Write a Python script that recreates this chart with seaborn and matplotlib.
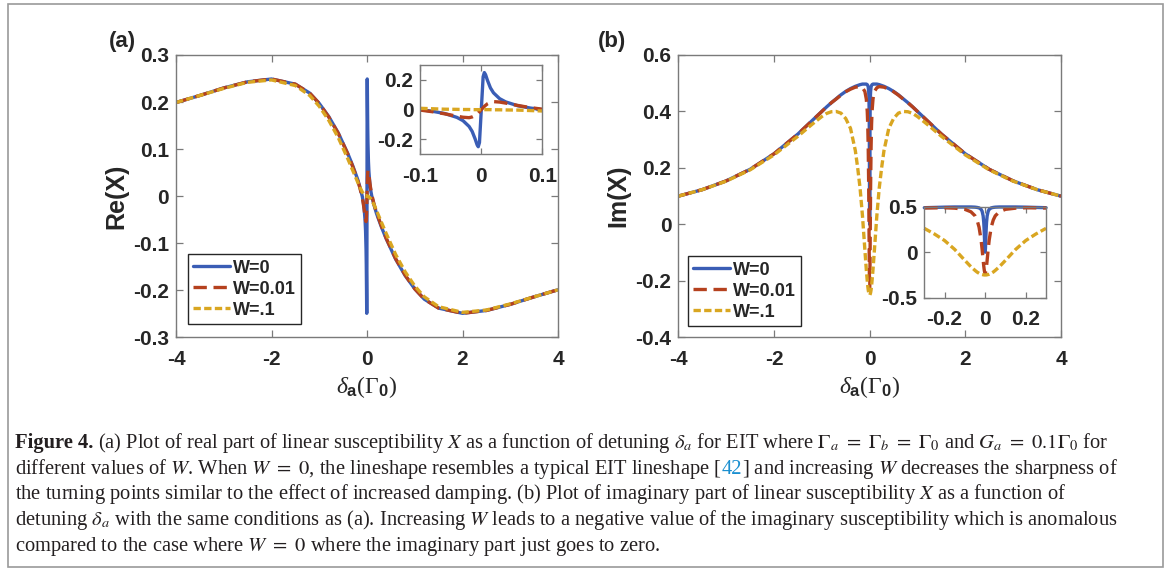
import matplotlib
matplotlib.use("Agg")
import pandas as pd
import seaborn as sns
from matplotlib import pyplot as plt
from matplotlib.patches import Rectangle

# values
re_x = [-4, -3.5, -3, -2.5, -2, -1.5, -1.2, -1, -0.8, -0.6, -0.4, -0.3, -0.2, -0.15, -0.1, -0.08, -0.06,
        -0.04, -0.03, -0.02, -0.015, -0.01, -0.007, -0.005, -0.003, 0, 0.003, 0.005, 0.007, 0.01, 0.015,
        0.02, 0.03, 0.04, 0.06, 0.08, 0.1, 0.15, 0.2, 0.3, 0.4, 0.6, 0.8, 1, 1.2, 1.5, 2, 2.5, 3, 3.5, 4]
re_w0 = [0.199, 0.214, 0.230, 0.243, 0.249, 0.238, 0.219, 0.197, 0.169, 0.134, 0.090, 0.065, 0.037, 0.020,
         0.000, -0.011, -0.026, -0.052, -0.074, -0.113, -0.146, -0.198, -0.235, -0.249, -0.221, 0.000,
         0.221, 0.249, 0.235, 0.198, 0.146, 0.113, 0.074, 0.052, 0.026, 0.011, 0.000, -0.020, -0.037,
         -0.065, -0.090, -0.134, -0.169, -0.197, -0.219, -0.238, -0.249, -0.243, -0.230, -0.214, -0.199]
re_w001 = [0.199, 0.214, 0.230, 0.243, 0.249, 0.238, 0.219, 0.197, 0.168, 0.133, 0.089, 0.063, 0.035, 0.018,
           -0.003, -0.014, -0.028, -0.044, -0.051, -0.054, -0.049, -0.039, -0.029, -0.022, -0.013, 0.000,
           0.013, 0.022, 0.029, 0.039, 0.049, 0.054, 0.051, 0.044, 0.028, 0.014, 0.003, -0.018, -0.035,
           -0.063, -0.089, -0.133, -0.168, -0.197, -0.219, -0.238, -0.249, -0.243, -0.230, -0.214, -0.199]
re_w01 = [0.199, 0.214, 0.229, 0.242, 0.247, 0.235, 0.214, 0.191, 0.161, 0.124, 0.079, 0.055, 0.031, 0.019,
          0.009, 0.006, 0.003, 0.002, 0.001, 0.001, 0.000, 0.000, 0.000, 0.000, 0.000, 0.000,
          0.000, 0.000, 0.000, 0.000, 0.000, -0.001, -0.001, -0.002, -0.003, -0.006, -0.009, -0.019, -0.031,
          -0.055, -0.079, -0.124, -0.161, -0.191, -0.214, -0.235, -0.247, -0.242, -0.229, -0.214, -0.199]

im_x = [-4, -3.5, -3, -2.5, -2, -1.5, -1.2, -1, -0.9, -0.8, -0.7, -0.6, -0.5, -0.4, -0.3, -0.25, -0.2, -0.15,
        -0.1, -0.07, -0.05, -0.04, -0.03, -0.02, -0.015, -0.01, -0.007, -0.005, -0.003, -0.0015, 0,
        0.0015, 0.003, 0.005, 0.007, 0.01, 0.015, 0.02, 0.03, 0.04, 0.05, 0.07, 0.1, 0.15, 0.2, 0.25, 0.3,
        0.4, 0.5, 0.6, 0.7, 0.8, 0.9, 1, 1.2, 1.5, 2, 2.5, 3, 3.5, 4]
im_w0 = [0.100, 0.123, 0.154, 0.195, 0.250, 0.320, 0.368, 0.400, 0.416, 0.431, 0.445, 0.459, 0.471, 0.481,
         0.489, 0.492, 0.495, 0.497, 0.497, 0.497, 0.495, 0.492, 0.487, 0.471, 0.450, 0.400, 0.331, 0.250,
         0.132, 0.041, 0.000,
         0.041, 0.132, 0.250, 0.331, 0.400, 0.450, 0.471, 0.487, 0.492, 0.495, 0.497, 0.497, 0.497, 0.495,
         0.492, 0.489, 0.481, 0.471, 0.459, 0.445, 0.431, 0.416, 0.400, 0.368, 0.320, 0.250, 0.195, 0.154,
         0.123, 0.100]
im_w001 = [0.100, 0.123, 0.154, 0.195, 0.250, 0.320, 0.368, 0.400, 0.416, 0.431, 0.444, 0.458, 0.470, 0.479,
           0.486, 0.487, 0.488, 0.484, 0.471, 0.444, 0.400, 0.354, 0.275, 0.135, 0.033, -0.084, -0.150,
           -0.187, -0.214, -0.226, -0.230,
           -0.226, -0.214, -0.187, -0.150, -0.084, 0.033, 0.135, 0.275, 0.354, 0.400, 0.444, 0.471, 0.484,
           0.488, 0.487, 0.486, 0.479, 0.470, 0.458, 0.444, 0.431, 0.416, 0.400, 0.368, 0.320, 0.250, 0.195,
           0.154, 0.123, 0.100]
im_w01 = [0.100, 0.123, 0.153, 0.193, 0.246, 0.312, 0.355, 0.382, 0.393, 0.399, 0.400, 0.394, 0.375, 0.340,
          0.262, 0.200, 0.128, 0.030, -0.090, -0.160, -0.200, -0.218, -0.232, -0.242, -0.245, -0.248,
          -0.249, -0.250, -0.250, -0.250, -0.250,
          -0.250, -0.250, -0.250, -0.249, -0.248, -0.245, -0.242, -0.232, -0.218, -0.200, -0.160, -0.090,
          0.030, 0.128, 0.200, 0.262, 0.340, 0.375, 0.394, 0.400, 0.399, 0.393, 0.382, 0.355, 0.312, 0.246,
          0.193, 0.153, 0.123, 0.100]

series_labels = ["W=0", "W=0.01", "W=.1"]

re_yticks = [-0.3, -0.2, -0.1, 0, 0.1, 0.2, 0.3]
re_ylabels = ["-0.3", "-0.2", "-0.1", "0", "0.1", "0.2", "0.3"]
im_yticks = [-0.4, -0.2, 0, 0.2, 0.4, 0.6]
im_ylabels = ["-0.4", "-0.2", "0", "0.2", "0.4", "0.6"]
main_xticks = [-4, -2, 0, 2, 4]
main_xlabels = ["-4", "-2", "0", "2", "4"]
re_in_xticks = [-0.1, 0, 0.1]
re_in_xlabels = ["-0.1", "0", "0.1"]
re_in_yticks = [-0.2, 0, 0.2]
re_in_ylabels = ["-0.2", "0", "0.2"]
im_in_xticks = [-0.2, 0, 0.2]
im_in_xlabels = ["-0.2", "0", "0.2"]
im_in_yticks = [-0.5, 0, 0.5]
im_in_ylabels = ["-0.5", "0", "0.5"]

re_df = pd.DataFrame({"delta": re_x, "W=0": re_w0, "W=0.01": re_w001, "W=.1": re_w01})
im_df = pd.DataFrame({"delta": im_x, "W=0": im_w0, "W=0.01": im_w001, "W=.1": im_w01})

sns.set_style("ticks")
plt.rcParams["font.family"] = ["Liberation Sans", "DejaVu Sans"]
plt.rcParams["axes.unicode_minus"] = False
plt.rcParams["mathtext.fontset"] = "custom"
plt.rcParams["mathtext.rm"] = "Liberation Serif"
plt.rcParams["mathtext.it"] = "Liberation Serif:italic"
plt.rcParams["mathtext.bf"] = "Liberation Sans:bold"

colors = {"W=0": "#3a5db5", "W=0.01": "#b5411e", "W=.1": "#d9a621"}
styles = {"W=0": "-", "W=0.01": (0, (4, 2)), "W=.1": (0, (2.2, 1.0))}
LW = 2.4
W, H = 1168, 571

fig = plt.figure(figsize=(W / 100, H / 100), dpi=100)
ax_re = fig.add_axes([176 / W, 1 - 337.3 / H, 382 / W, 282.3 / H])
ax_im = fig.add_axes([678.3 / W, 1 - 337.3 / H, 382.7 / W, 282.3 / H])
in_re = fig.add_axes([420.3 / W, 1 - 154.3 / H, 122 / W, 89.3 / H])
in_im = fig.add_axes([924.3 / W, 1 - 297.7 / H, 121.7 / W, 91 / H])


def draw(ax, df, clip=True, label=True):
    for s in series_labels:
        sns.lineplot(data=df, x="delta", y=s, ax=ax, color=colors[s], linestyle=styles[s],
                     linewidth=LW, label=s if label else None, legend=False, clip_on=clip)


def style(ax, xlim, ylim, xt, xl, yt, yl, xpad, ypad, tl=5):
    ax.set_xlim(*xlim)
    ax.set_ylim(*ylim)
    ax.set_xticks(xt, xl)
    ax.set_yticks(yt, yl)
    ax.tick_params(direction="in", top=True, right=True, length=tl, width=0.9, color="#7a7a7a",
                   labelsize=15, labelcolor="#262626")
    ax.tick_params(axis="x", pad=xpad)
    ax.tick_params(axis="y", pad=ypad)
    for t in ax.get_xticklabels() + ax.get_yticklabels():
        t.set_fontweight("bold")
    for sp in ax.spines.values():
        sp.set_color("#7a7a7a")
        sp.set_linewidth(1.0)
    ax.set_xlabel("")
    ax.set_ylabel("")


draw(ax_re, re_df)
draw(ax_im, im_df)
draw(in_re, re_df[(re_df.delta >= -0.1) & (re_df.delta <= 0.1)], label=False)
draw(in_im, im_df[(im_df.delta >= -0.3) & (im_df.delta <= 0.3)], clip=False, label=False)

style(ax_re, (-4, 4), (-0.3, 0.3), main_xticks, main_xlabels, re_yticks, re_ylabels, 9, 5)
style(ax_im, (-4, 4), (-0.4, 0.6), main_xticks, main_xlabels, im_yticks, im_ylabels, 9, 5)
style(in_re, (-0.1, 0.1), (-0.3, 0.3), re_in_xticks, re_in_xlabels, re_in_yticks, re_in_ylabels, 9, 5, tl=4)
style(in_im, (-0.3, 0.3), (-0.5, 0.5), im_in_xticks, im_in_xlabels, im_in_yticks, im_in_ylabels, 9, 5, tl=4)

for ax, yl in [(ax_re, "Re(X)"), (ax_im, "Im(X)")]:
    ax.set_ylabel(yl, fontsize=18, fontweight="bold", color="#262626")
    ax.yaxis.set_label_coords(-0.125, 0.5)
    ax.set_xlabel(r"$\delta_{\mathbf{a}}(\Gamma_{\mathbf{0}})$", fontsize=17, color="#262626")
    ax.xaxis.set_label_coords(0.5, -0.13)

for ax, x0, y0 in [(ax_re, 188, 324), (ax_im, 688, 326)]:
    h, l = ax.get_legend_handles_labels()
    leg = ax.legend(h, l, loc="lower left", bbox_to_anchor=(x0 / W, 1 - y0 / H),
                    bbox_transform=fig.transFigure, borderaxespad=0, frameon=True, fancybox=False,
                    edgecolor="#262626", framealpha=1, prop={"weight": "bold", "size": 13},
                    handlelength=2.0, handletextpad=0.2, labelspacing=0.22, borderpad=0.3)
    leg.get_frame().set_linewidth(1.0)

fig.text(122 / W, 1 - 42 / H, "(a)", fontsize=16, fontweight="bold", ha="center", va="center")
fig.text(612 / W, 1 - 42 / H, "(b)", fontsize=16, fontweight="bold", ha="center", va="center")

# caption
renderer = fig.canvas.get_renderer()
cap = dict(family="Liberation Serif", math_fontfamily="stix", color="#231f20")
line2_plain = (r"different values of $W$. When $W\ =\ 0$, the lineshape resembles a typical EIT "
               r"lineshape [42] and increasing $W$ decreases the sharpness of")
probe = fig.text(0, 0, line2_plain, fontsize=14, **cap)
pw = probe.get_window_extent(renderer).width
probe.remove()
cfs = 14 * (1118 - 15) / pw


def place(y, segs):
    x = 15
    for text, kw, gap in segs:
        t = fig.text(x / W, 1 - y / H, text, fontsize=cfs, va="baseline", ha="left", **{**cap, **kw})
        x = t.get_window_extent(renderer).x1
        if gap:
            x += cfs * 100 / 72 * 0.25


place(448, [("Figure 4.", {"fontweight": "bold"}, True),
            (r"(a) Plot of real part of linear susceptibility $X$ as a function of detuning $\delta_a$ "
             r"for EIT where $\Gamma_a\ =\ \Gamma_b\ =\ \Gamma_0$ and $G_a\ =\ 0.1\Gamma_0$ for", {}, False)])
place(474, [(r"different values of $W$. When $W\ =\ 0$, the lineshape resembles a typical EIT lineshape [",
             {}, False),
            ("42", {"color": "#1a8fd0"}, False),
            (r"] and increasing $W$ decreases the sharpness of", {}, False)])
place(499.5, [(r"the turning points similar to the effect of increased damping. (b) Plot of imaginary part of "
               r"linear susceptibility $X$ as a function of", {}, False)])
place(525, [(r"detuning $\delta_a$ with the same conditions as (a). Increasing $W$ leads to a negative value "
             r"of the imaginary susceptibility which is anomalous", {}, False)])
place(550.5, [(r"compared to the case where $W\ =\ 0$ where the imaginary part just goes to zero.", {}, False)])

fig.add_artist(Rectangle((8 / W, 1 - 567 / H), (1163 - 8) / W, (567 - 4) / H, transform=fig.transFigure,
                         fill=False, edgecolor="#9a9a9a", linewidth=1.2))

fig.savefig("out.png", dpi=100)
